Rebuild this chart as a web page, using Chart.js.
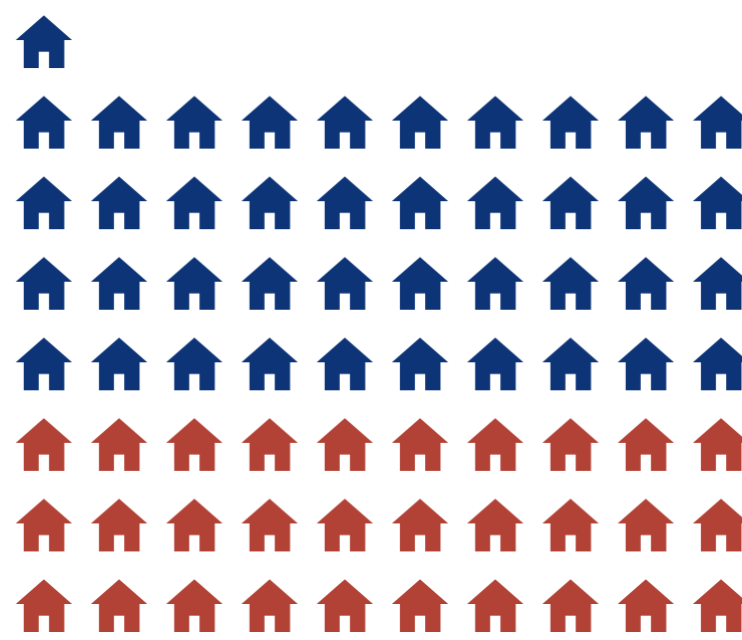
<!DOCTYPE html>
<html>
<head>
<meta charset="utf-8">
<style>html,body{margin:0;padding:0;background:#fff;overflow:hidden}canvas{display:block}</style>
<script src="https://cdn.jsdelivr.net/npm/chart.js@4"></script>
</head>
<body>
<canvas id="c" width="742" height="640"></canvas>
<script>
const blueRowCounts = [1, 10, 10, 10, 10];
const redRowCounts = [10, 10, 10];
const blueColor = "#0E3478";
const redColor = "#B24236";

function cells(counts, firstRow) {
  const out = [];
  counts.forEach((n, r) => {
    for (let i = 0; i < n; i++) out.push({x: i, y: firstRow + r});
  });
  return out;
}
function house(color) {
  const ss = 4, w = 58, h = 55;
  const c = document.createElement("canvas");
  c.width = w * ss; c.height = h * ss;
  const g = c.getContext("2d");
  g.scale(ss, ss);
  g.fillStyle = color;
  g.beginPath();
  g.moveTo(29, 1.3);
  g.lineTo(57.15, 26);
  g.lineTo(49.45, 26);
  g.lineTo(49.45, 54);
  g.lineTo(34.15, 54);
  g.lineTo(34.15, 37.7);
  g.lineTo(23.85, 37.7);
  g.lineTo(23.85, 54);
  g.lineTo(8.85, 54);
  g.lineTo(8.85, 26);
  g.lineTo(0.85, 26);
  g.closePath();
  g.fill();
  const out = document.createElement("canvas");
  out.width = w; out.height = h;
  const o = out.getContext("2d");
  o.imageSmoothingEnabled = true;
  o.imageSmoothingQuality = "high";
  o.drawImage(c, 0, 0, w, h);
  return out;
}
new Chart(document.getElementById("c"), {
  type: "scatter",
  data: {
    datasets: [
      {label: "Blue", data: cells(blueRowCounts, 0), pointStyle: house(blueColor), pointRadius: 28, pointHoverRadius: 28},
      {label: "Red", data: cells(redRowCounts, blueRowCounts.length), pointStyle: house(redColor), pointRadius: 28, pointHoverRadius: 28}
    ]
  },
  options: {
    responsive: false,
    animation: false,
    devicePixelRatio: 1,
    layout: {padding: 0, autoPadding: false},
    plugins: {legend: {display: false}, tooltip: {enabled: false}, title: {display: false}},
    scales: {
      x: {type: "linear", display: false, min: -0.5828, max: 9.2790},
      y: {type: "linear", display: false, reverse: true, min: -0.5151, max: 7.4283}
    }
  }
});
</script>
</body>
</html>
